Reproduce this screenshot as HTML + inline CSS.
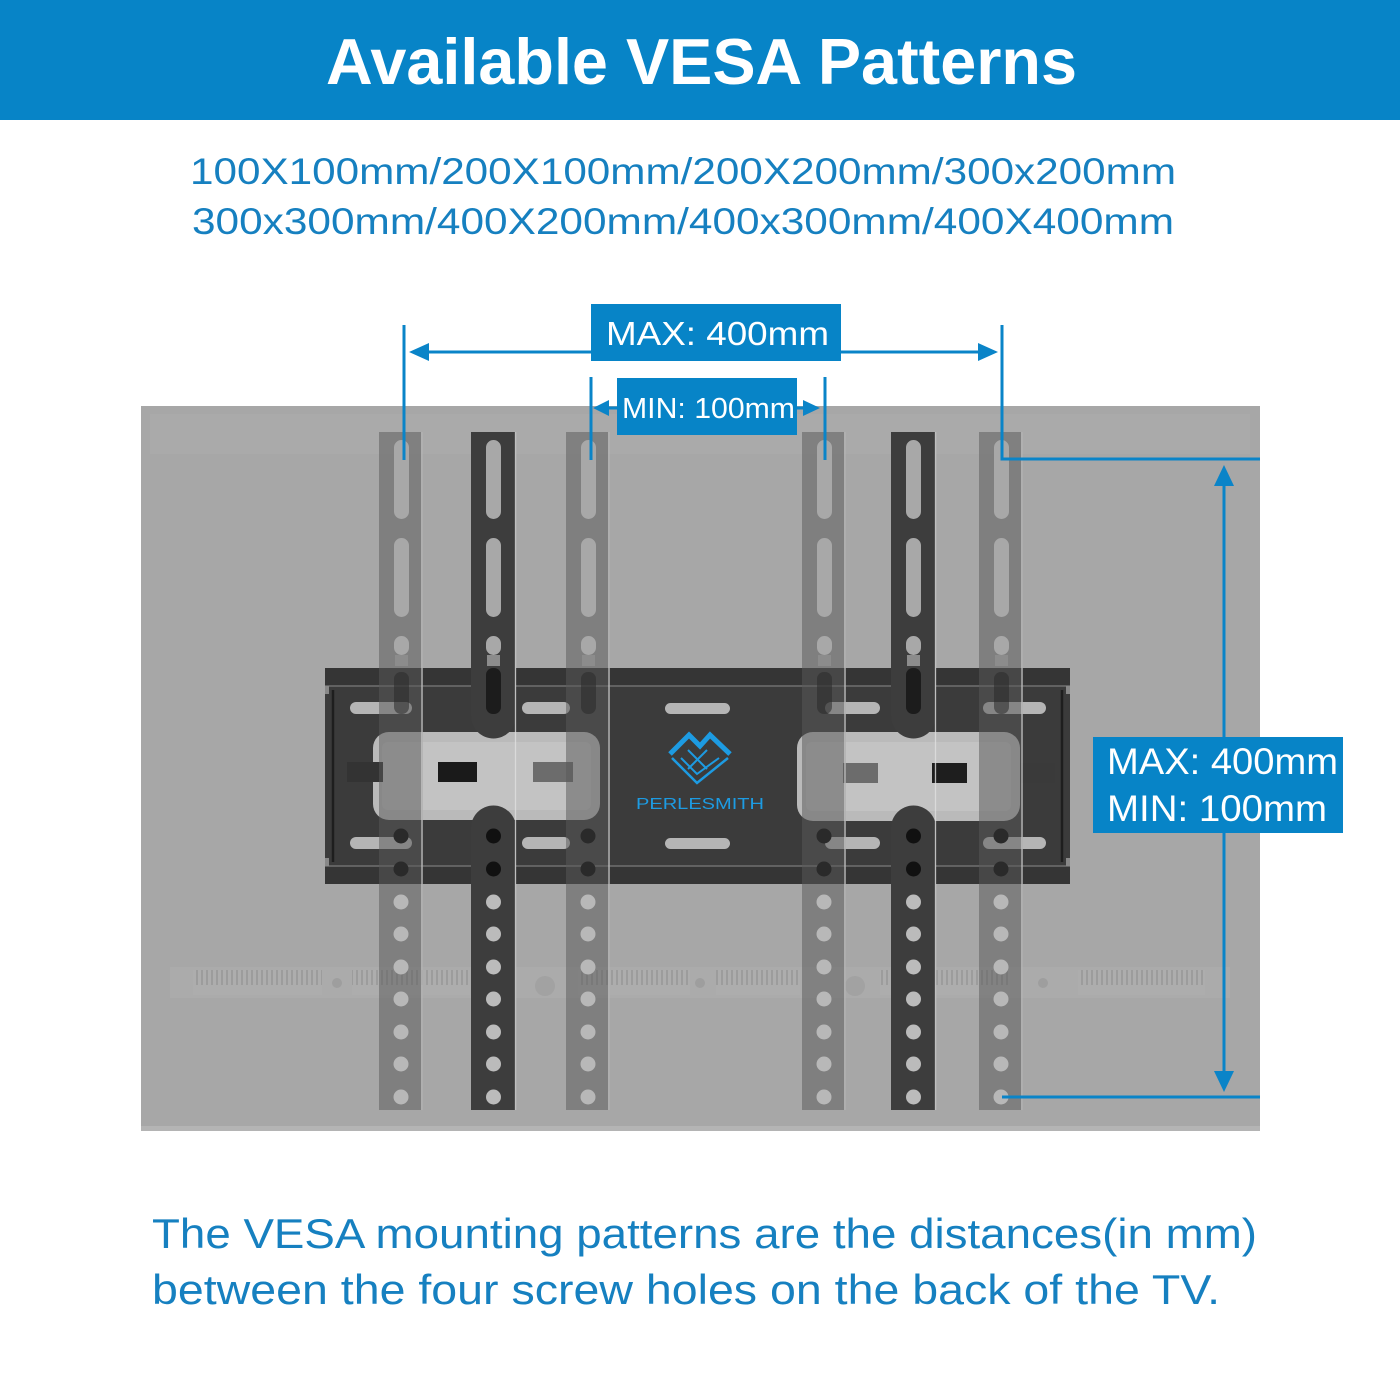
<!DOCTYPE html>
<html><head><meta charset="utf-8">
<style>
html,body{margin:0;padding:0;background:#fff;}
body{width:1400px;height:1400px;position:relative;overflow:hidden;}
svg{position:absolute;left:0;top:0;}
text{font-family:"Liberation Sans",Arial,sans-serif;}
</style></head>
<body>
<svg width="1400" height="1400" viewBox="0 0 1400 1400" xmlns="http://www.w3.org/2000/svg">
<defs>
  <pattern id="vent" x="0" y="0" width="5" height="30" patternUnits="userSpaceOnUse">
    <rect width="5" height="30" fill="#adadad"/>
    <rect x="1" y="5" width="2" height="20" fill="#9c9c9c"/>
  </pattern>
  <g id="la">
    <rect x="0" y="432" width="44" height="678" fill="#595959" fill-opacity="0.51"/>
    <rect x="15" y="440" width="15" height="79" rx="7.5" fill="#a8a8a8"/>
    <rect x="15" y="538" width="15" height="79" rx="7.5" fill="#a8a8a8"/>
    <rect x="15" y="636" width="15" height="19" rx="7.5" fill="#a8a8a8"/>
    <rect x="16" y="655" width="13" height="11" fill="#8c8c8c"/>
    <rect x="15" y="672" width="15" height="42" rx="7" fill="#2a2a2a" fill-opacity="0.55"/>
    <circle cx="22" cy="836" r="7.5" fill="#2a2a2a"/>
    <circle cx="22" cy="869" r="7.5" fill="#2a2a2a"/>
    <circle cx="22" cy="902" r="7.5" fill="#b8b8b8"/>
    <circle cx="22" cy="934" r="7.5" fill="#b8b8b8"/>
    <circle cx="22" cy="967" r="7.5" fill="#b8b8b8"/>
    <circle cx="22" cy="999" r="7.5" fill="#b8b8b8"/>
    <circle cx="22" cy="1032" r="7.5" fill="#b8b8b8"/>
    <circle cx="22" cy="1064" r="7.5" fill="#b8b8b8"/>
    <circle cx="22" cy="1097" r="7.5" fill="#b8b8b8"/>
    <line x1="43" y1="432" x2="43" y2="1110" stroke="#dcdcdc" stroke-width="1.3" stroke-opacity="0.8"/>
  </g>
  <g id="da">
    <path d="M0,432 H45 V716 A22.5,22.5 0 0 1 0,716 Z" fill="#3d3d3d"/>
    <path d="M0,1110 V828 A22.5,22.5 0 0 1 45,828 V1110 Z" fill="#3d3d3d"/>
    <rect x="15" y="440" width="15" height="79" rx="7.5" fill="#a8a8a8"/>
    <rect x="15" y="538" width="15" height="79" rx="7.5" fill="#a8a8a8"/>
    <rect x="15" y="636" width="15" height="19" rx="7.5" fill="#a8a8a8"/>
    <rect x="16" y="655" width="13" height="11" fill="#8c8c8c"/>
    <rect x="15" y="668" width="15" height="46" rx="7" fill="#1c1c1c"/>
    <circle cx="22.5" cy="836" r="7.5" fill="#111"/>
    <circle cx="22.5" cy="869" r="7.5" fill="#111"/>
    <circle cx="22.5" cy="902" r="7.5" fill="#bbbbbb"/>
    <circle cx="22.5" cy="934" r="7.5" fill="#bbbbbb"/>
    <circle cx="22.5" cy="967" r="7.5" fill="#bbbbbb"/>
    <circle cx="22.5" cy="999" r="7.5" fill="#bbbbbb"/>
    <circle cx="22.5" cy="1032" r="7.5" fill="#bbbbbb"/>
    <circle cx="22.5" cy="1064" r="7.5" fill="#bbbbbb"/>
    <circle cx="22.5" cy="1097" r="7.5" fill="#bbbbbb"/>
    <line x1="44.5" y1="432" x2="44.5" y2="1110" stroke="#e0e0e0" stroke-width="1.3" stroke-opacity="0.8"/>
  </g>
</defs>

<!-- header -->
<rect x="0" y="0" width="1400" height="120" fill="#0784c7"/>
<text x="326" y="84" font-size="65" font-weight="bold" fill="#ffffff" textLength="751" lengthAdjust="spacingAndGlyphs">Available VESA Patterns</text>

<!-- subtitle -->
<text x="190" y="184" font-size="37" fill="#1680c0" textLength="986" lengthAdjust="spacingAndGlyphs">100X100mm/200X100mm/200X200mm/300x200mm</text>
<text x="192" y="234" font-size="37" fill="#1680c0" textLength="982" lengthAdjust="spacingAndGlyphs">300x300mm/400X200mm/400x300mm/400X400mm</text>

<!-- TV back -->
<rect x="141" y="406" width="1119" height="725" fill="#a7a7a7"/>
<rect x="150" y="414" width="1100" height="40" fill="#ababab" opacity="0.6"/>
<rect x="141" y="1126" width="1119" height="5" fill="#b4b4b4"/>

<!-- vent strip -->
<rect x="170" y="967" width="1060" height="31" fill="#ababab"/>
<rect x="193" y="970" width="129" height="25" fill="url(#vent)"/>
<rect x="352" y="970" width="118" height="25" fill="url(#vent)"/>
<rect x="578" y="970" width="112" height="25" fill="url(#vent)"/>
<rect x="716" y="970" width="84" height="25" fill="url(#vent)"/>
<rect x="880" y="970" width="130" height="25" fill="url(#vent)"/>
<rect x="1078" y="970" width="127" height="25" fill="url(#vent)"/>
<circle cx="337" cy="983" r="5" fill="#9e9e9e"/>
<circle cx="545" cy="986" r="10" fill="#a2a2a2"/>
<circle cx="700" cy="983" r="5" fill="#9e9e9e"/>
<circle cx="855" cy="986" r="10" fill="#a2a2a2"/>
<circle cx="1043" cy="983" r="5" fill="#9e9e9e"/>

<!-- wall plate -->
<rect x="325" y="668" width="745" height="216" fill="#3b3b3b"/>
<rect x="325" y="668" width="745" height="18" fill="#353535"/>
<line x1="325" y1="686" x2="1070" y2="686" stroke="#707070" stroke-width="1.5"/>
<rect x="325" y="866" width="745" height="18" fill="#353535"/>
<line x1="325" y1="866" x2="1070" y2="866" stroke="#707070" stroke-width="1.5"/>
<line x1="333" y1="690" x2="333" y2="862" stroke="#1e1e1e" stroke-width="2.5"/>
<line x1="1062" y1="690" x2="1062" y2="862" stroke="#1e1e1e" stroke-width="2.5"/>
<rect x="325" y="686" width="4" height="8" fill="#888"/>
<rect x="325" y="858" width="4" height="8" fill="#888"/>
<rect x="1066" y="686" width="4" height="8" fill="#888"/>
<rect x="1066" y="858" width="4" height="8" fill="#888"/>

<!-- plate slots -->
<g fill="#b5b5b5">
  <rect x="350" y="702" width="62" height="12" rx="6"/>
  <rect x="522" y="702" width="48" height="12" rx="6"/>
  <rect x="665" y="703" width="65" height="11" rx="5.5"/>
  <rect x="825" y="702" width="55" height="12" rx="6"/>
  <rect x="983" y="702" width="63" height="12" rx="6"/>
  <rect x="350" y="837" width="62" height="12" rx="6"/>
  <rect x="522" y="837" width="48" height="12" rx="6"/>
  <rect x="665" y="838" width="65" height="11" rx="5.5"/>
  <rect x="825" y="837" width="55" height="12" rx="6"/>
  <rect x="983" y="837" width="63" height="12" rx="6"/>
</g>

<!-- cutouts -->
<rect x="373" y="732" width="227" height="88" rx="16" fill="#bababa"/>
<rect x="797" y="732" width="223" height="89" rx="16" fill="#bababa"/>
<rect x="382" y="742" width="209" height="68" rx="6" fill="#c3c3c3"/>
<rect x="806" y="742" width="205" height="69" rx="6" fill="#c3c3c3"/>

<!-- bolts -->
<rect x="347" y="762" width="36" height="20" fill="#333"/>
<rect x="438" y="762" width="39" height="20" fill="#1a1a1a"/>
<rect x="533" y="762" width="40" height="20" fill="#6c6c6c"/>
<rect x="843" y="763" width="35" height="20" fill="#6c6c6c"/>
<rect x="932" y="763" width="35" height="20" fill="#1e1e1e"/>
<rect x="1020" y="763" width="35" height="20" fill="#3a3a3a"/>

<!-- logo -->
<polyline points="670,754 689,735 700,746 710,735 730,754" fill="none" stroke="#1d9be2" stroke-width="5" stroke-linejoin="miter"/>
<polyline points="672,758 697,783 728,758" fill="none" stroke="#1d9be2" stroke-width="2.5"/>
<polyline points="681,758 697,774 719,758" fill="none" stroke="#1d9be2" stroke-width="2"/>
<line x1="688" y1="750" x2="707" y2="769" stroke="#1d9be2" stroke-width="2"/>
<line x1="707" y1="750" x2="688" y2="769" stroke="#1d9be2" stroke-width="2"/>
<text x="636" y="809" font-size="16" fill="#1d9be2" textLength="128" lengthAdjust="spacingAndGlyphs">PERLESMITH</text>

<!-- arms -->
<use href="#la" x="379" y="0"/>
<use href="#da" x="471" y="0"/>
<use href="#la" x="566" y="0"/>
<use href="#la" x="802" y="0"/>
<use href="#da" x="891" y="0"/>
<use href="#la" x="979" y="0"/>

<!-- dimension lines -->
<g stroke="#0a84c8" stroke-width="3" fill="none">
  <line x1="404" y1="325" x2="404" y2="460"/>
  <polyline points="1002,325 1002,459 1260,459"/>
  <line x1="591" y1="377" x2="591" y2="460"/>
  <line x1="825" y1="377" x2="825" y2="460"/>
  <line x1="425" y1="352" x2="982" y2="352"/>
  <line x1="605" y1="408" x2="808" y2="408"/>
  <polyline points="1002,1097 1260,1097"/>
  <line x1="1224" y1="480" x2="1224" y2="1077"/>
</g>
<g fill="#0a84c8">
  <polygon points="409,352 429,343 429,361"/>
  <polygon points="998,352 978,343 978,361"/>
  <polygon points="593,408 609,400 609,416"/>
  <polygon points="820,408 803,400 803,416"/>
  <polygon points="1224,465 1214,486 1234,486"/>
  <polygon points="1224,1092 1214,1071 1234,1071"/>
</g>

<!-- label boxes -->
<rect x="591" y="304" width="250" height="57" fill="#0784c7"/>
<text x="606" y="345" font-size="33" fill="#ffffff" textLength="223" lengthAdjust="spacingAndGlyphs">MAX: 400mm</text>
<rect x="617" y="378" width="180" height="57" fill="#0784c7"/>
<text x="622" y="418" font-size="29" fill="#ffffff" textLength="173" lengthAdjust="spacingAndGlyphs">MIN: 100mm</text>
<rect x="1093" y="737" width="250" height="96" fill="#0784c7"/>
<text x="1107" y="774" font-size="37" fill="#ffffff" textLength="231" lengthAdjust="spacingAndGlyphs">MAX: 400mm</text>
<text x="1107" y="821" font-size="37" fill="#ffffff" textLength="220" lengthAdjust="spacingAndGlyphs">MIN: 100mm</text>

<!-- bottom paragraph -->
<text x="152" y="1248" font-size="42" fill="#1680c0" textLength="1105" lengthAdjust="spacingAndGlyphs">The VESA mounting patterns are the distances(in mm)</text>
<text x="152" y="1304" font-size="42" fill="#1680c0" textLength="1068" lengthAdjust="spacingAndGlyphs">between the four screw holes on the back of the TV.</text>
</svg>
</body></html>
